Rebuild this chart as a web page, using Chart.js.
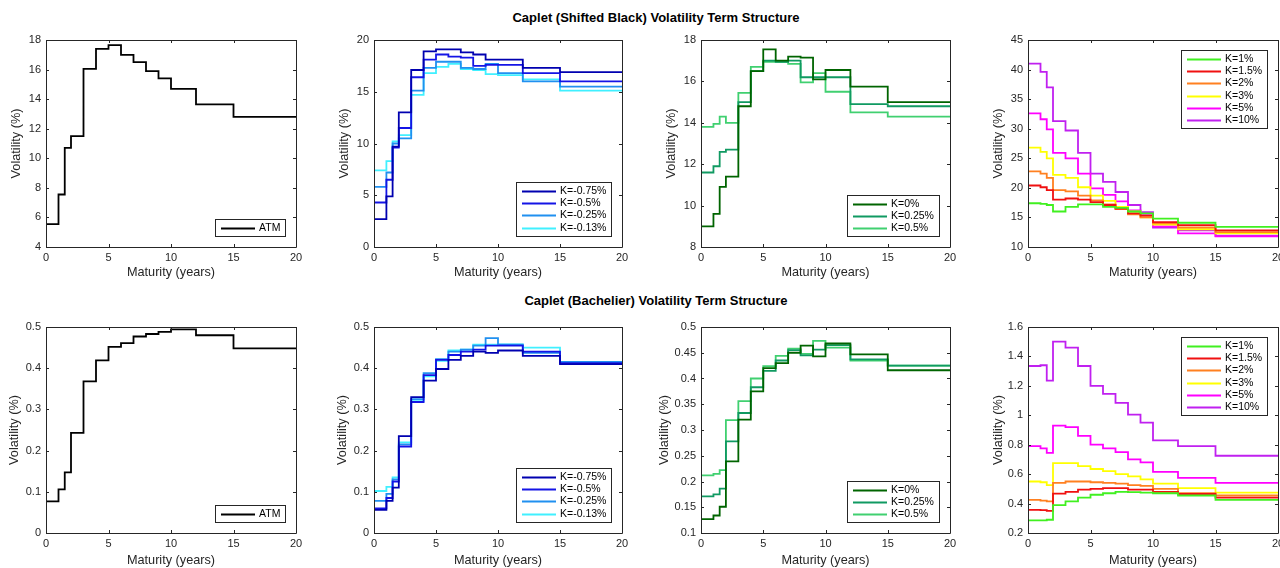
<!DOCTYPE html>
<html lang="en">

<head>
  <meta charset="UTF-8" />
  <title>Caplet Volatility Term Structure</title>
  <script src="https://cdn.jsdelivr.net/npm/chart.js"></script>
  <style>
    body {
      margin: 0;
      width: 1280px;
      height: 568px;
      overflow: hidden;
      background: #fff;
      position: relative;
      font-family: "Liberation Sans", Arial, sans-serif;
    }

    .titulo {
      position: absolute;
      left: 0;
      width: 1312px;
      text-align: center;
      font-weight: bold;
      font-size: 13px;
      color: #000;
    }

    canvas {
      position: absolute;
    }
  </style>
</head>

<body>
  <div class="titulo" style="top: 10px;">Caplet (Shifted Black) Volatility Term Structure</div>
  <div class="titulo" style="top: 293px;">Caplet (Bachelier) Volatility Term Structure</div>

  <script>
    // maturity knots (years); each value holds until the next knot
    const maturidades = [0, 1, 1.5, 2, 3, 4, 5, 6, 7, 8, 9, 10, 12, 15, 20];
    const ticksX = [0, 5, 10, 15, 20];

    // Shifted Black volatilities (%)
    const sbATM = [5.55, 7.55, 10.7, 11.5, 16.05, 17.4, 17.65, 17.0, 16.5, 15.9, 15.4, 14.7, 13.65, 12.8];
    const sbKm075 = [2.7, 4.9, 9.7, 13.0, 17.1, 18.9, 19.1, 19.1, 18.8, 18.6, 18.1, 18.1, 17.3, 16.9];
    const sbKm050 = [4.3, 6.5, 9.6, 11.5, 16.4, 18.1, 18.6, 18.4, 18.3, 17.5, 17.6, 17.6, 16.8, 16.0];
    const sbKm025 = [5.8, 7.2, 10.0, 10.5, 15.1, 17.3, 17.9, 17.9, 17.3, 17.2, 17.7, 16.8, 16.0, 15.5];
    const sbKm013 = [7.4, 8.3, 10.2, 10.8, 14.7, 16.8, 17.4, 17.7, 17.2, 17.1, 16.7, 16.6, 16.2, 15.1];
    const sbK000 = [9.0, 9.6, 10.9, 11.4, 14.8, 16.5, 17.55, 17.0, 17.2, 17.15, 16.1, 16.55, 15.75, 15.0];
    const sbK025 = [11.6, 11.9, 12.6, 12.7, 15.0, 16.5, 17.0, 16.95, 17.0, 16.2, 16.2, 16.2, 14.9, 14.8];
    const sbK050 = [13.8, 13.95, 14.3, 14.0, 15.45, 16.7, 16.95, 16.95, 16.85, 15.95, 16.4, 15.5, 14.5, 14.3];
    const sbK1 = [17.4, 17.3, 17.1, 16.0, 16.8, 17.2, 17.2, 16.8, 16.6, 16.0, 15.7, 14.8, 14.1, 13.4];
    const sbK15 = [20.4, 20.1, 19.6, 18.0, 18.2, 18.0, 17.6, 17.1, 16.5, 15.7, 15.3, 14.2, 13.7, 12.8];
    const sbK2 = [22.8, 22.4, 21.7, 19.6, 19.4, 18.7, 17.9, 17.2, 16.4, 15.5, 15.0, 14.0, 13.3, 12.5];
    const sbK3 = [26.8, 26.1, 25.0, 22.2, 21.7, 20.1, 18.7, 17.8, 16.8, 16.0, 15.0, 13.8, 13.0, 12.3];
    const sbK5 = [32.6, 31.6, 29.9, 25.9, 25.0, 22.4, 19.9, 18.8, 17.7, 16.2, 15.4, 13.5, 12.3, 11.8];
    const sbK10 = [41.0, 39.6, 37.0, 31.3, 29.7, 25.9, 22.4, 21.0, 19.3, 17.1, 15.9, 13.3, 12.8, 11.9];

    // Bachelier volatilities (%)
    const baATM = [0.077, 0.106, 0.147, 0.243, 0.368, 0.419, 0.452, 0.461, 0.477, 0.483, 0.488, 0.494, 0.480, 0.448];
    const baKm075 = [0.056, 0.078, 0.11, 0.235, 0.33, 0.37, 0.398, 0.42, 0.43, 0.44, 0.437, 0.443, 0.43, 0.41];
    const baKm050 = [0.06, 0.085, 0.125, 0.21, 0.318, 0.383, 0.42, 0.432, 0.44, 0.445, 0.455, 0.455, 0.44, 0.412];
    const baKm025 = [0.078, 0.095, 0.13, 0.215, 0.325, 0.388, 0.422, 0.44, 0.445, 0.455, 0.473, 0.457, 0.437, 0.415];
    const baKm013 = [0.102, 0.112, 0.135, 0.22, 0.32, 0.38, 0.418, 0.443, 0.445, 0.457, 0.457, 0.458, 0.45, 0.415];
    const baK000 = [0.127, 0.134, 0.151, 0.239, 0.32, 0.375, 0.42, 0.43, 0.45, 0.464, 0.443, 0.468, 0.447, 0.416];
    const baK025 = [0.171, 0.175, 0.186, 0.278, 0.333, 0.383, 0.415, 0.435, 0.455, 0.445, 0.456, 0.465, 0.437, 0.425];
    const baK050 = [0.212, 0.215, 0.222, 0.319, 0.356, 0.40, 0.424, 0.444, 0.458, 0.448, 0.473, 0.46, 0.435, 0.425];
    const baK1 = [0.286, 0.286, 0.29, 0.39, 0.415, 0.44, 0.46, 0.47, 0.48, 0.478, 0.475, 0.47, 0.455, 0.425];
    const baK15 = [0.357, 0.355, 0.35, 0.468, 0.48, 0.495, 0.50, 0.505, 0.505, 0.495, 0.495, 0.48, 0.465, 0.44];
    const baK2 = [0.425, 0.42, 0.415, 0.54, 0.55, 0.55, 0.545, 0.54, 0.535, 0.525, 0.52, 0.50, 0.47, 0.455];
    const baK3 = [0.55, 0.545, 0.525, 0.675, 0.675, 0.655, 0.635, 0.62, 0.60, 0.585, 0.565, 0.535, 0.505, 0.475];
    const baK5 = [0.79, 0.775, 0.745, 0.93, 0.92, 0.86, 0.80, 0.775, 0.75, 0.70, 0.68, 0.615, 0.575, 0.54];
    const baK10 = [1.335, 1.34, 1.235, 1.50, 1.46, 1.335, 1.20, 1.145, 1.085, 1.005, 0.95, 0.83, 0.79, 0.725];

    const corATM = '#000000';
    const coresNeg = ['#0000b0', '#1414e6', '#2090f0', '#40f0ff'];
    const coresBaixo = ['#006400', '#109a62', '#40d070'];
    const coresAlto = ['#40f020', '#f01010', '#ff8020', '#ffff00', '#ff00ff', '#c020f0'];

    const rotNeg = ['K=-0.75%', 'K=-0.5%', 'K=-0.25%', 'K=-0.13%'];
    const rotBaixo = ['K=0%', 'K=0.25%', 'K=0.5%'];
    const rotAlto = ['K=1%', 'K=1.5%', 'K=2%', 'K=3%', 'K=5%', 'K=10%'];

    const FONTE = '"Liberation Sans", Arial, sans-serif';
    const CINZA = '#262626';

    // space reserved above and right of the plot box
    const PT = 12, PR = 12;

    function pontos(valores) {
      return maturidades.map((m, i) => ({ x: m, y: valores[Math.min(i, valores.length - 1)] }));
    }

    function series(listas, rotulos, cores) {
      return listas.map((v, i) => ({
        label: rotulos[i],
        data: pontos(v),
        borderColor: cores[i],
        borderWidth: 1.8,
        stepped: true,
        pointRadius: 0,
        fill: false
      }));
    }

    const paineis = [
      { esq: 46, topo: 40, larg: 250, alt: 207, yw: 41, xh: 37, y: [4, 18, 2], canto: 'se', ds: series([sbATM], ['ATM'], [corATM]) },
      { esq: 374, topo: 40, larg: 248, alt: 207, yw: 41, xh: 37, y: [0, 20, 5], canto: 'se', ds: series([sbKm075, sbKm050, sbKm025, sbKm013], rotNeg, coresNeg) },
      { esq: 701, topo: 40, larg: 249, alt: 207, yw: 41, xh: 37, y: [8, 18, 2], canto: 'se', ds: series([sbK000, sbK025, sbK050], rotBaixo, coresBaixo) },
      { esq: 1028, topo: 40, larg: 250, alt: 207, yw: 41, xh: 37, y: [10, 45, 5], canto: 'ne', ds: series([sbK1, sbK15, sbK2, sbK3, sbK5, sbK10], rotAlto, coresAlto) },
      { esq: 46, topo: 327, larg: 250, alt: 206, yw: 43, xh: 39, y: [0, 0.5, 0.1], canto: 'se', ds: series([baATM], ['ATM'], [corATM]) },
      { esq: 374, topo: 327, larg: 248, alt: 206, yw: 43, xh: 39, y: [0, 0.5, 0.1], canto: 'se', ds: series([baKm075, baKm050, baKm025, baKm013], rotNeg, coresNeg) },
      { esq: 701, topo: 327, larg: 249, alt: 206, yw: 48, xh: 39, y: [0.1, 0.5, 0.05], canto: 'se', ds: series([baK000, baK025, baK050], rotBaixo, coresBaixo) },
      { esq: 1028, topo: 327, larg: 250, alt: 206, yw: 41, xh: 39, y: [0.2, 1.6, 0.2], canto: 'ne', ds: series([baK1, baK15, baK2, baK3, baK5, baK10], rotAlto, coresAlto) }
    ];

    // axes box with inward tick marks on all four sides
    const moldura = {
      id: 'moldura',
      afterDraw(chart) {
        const { ctx, chartArea: a, scales } = chart;
        const tl = 3;
        ctx.save();
        ctx.strokeStyle = CINZA;
        ctx.lineWidth = 1;
        ctx.beginPath();
        ctx.rect(Math.round(a.left) + 0.5, Math.round(a.top) + 0.5,
          Math.round(a.right) - Math.round(a.left), Math.round(a.bottom) - Math.round(a.top));
        scales.x.ticks.forEach(t => {
          const px = Math.round(scales.x.getPixelForValue(t.value)) + 0.5;
          ctx.moveTo(px, a.bottom); ctx.lineTo(px, a.bottom - tl);
          ctx.moveTo(px, a.top); ctx.lineTo(px, a.top + tl);
        });
        scales.y.ticks.forEach(t => {
          const py = Math.round(scales.y.getPixelForValue(t.value)) + 0.5;
          ctx.moveTo(a.left, py); ctx.lineTo(a.left + tl, py);
          ctx.moveTo(a.right, py); ctx.lineTo(a.right - tl, py);
        });
        ctx.stroke();
        ctx.restore();
      }
    };

    // boxed legend drawn inside the plot area
    const legendaCaixa = {
      id: 'legendaCaixa',
      afterDraw(chart, args, opts) {
        const { ctx, chartArea: a } = chart;
        const ds = chart.data.datasets;
        const linhaH = 12.3;
        ctx.save();
        ctx.font = '10.5px ' + FONTE;
        const textoW = Math.max(...ds.map(d => ctx.measureText(d.label).width));
        const w = Math.round(44 + textoW + 5);
        const h = Math.round(ds.length * linhaH + 4.5);
        const x0 = Math.round(a.right - 11 - w);
        const y0 = opts.canto === 'ne' ? Math.round(a.top + 10) : Math.round(a.bottom - 11 - h);
        ctx.fillStyle = '#fff';
        ctx.fillRect(x0, y0, w, h);
        ctx.strokeStyle = CINZA;
        ctx.lineWidth = 1;
        ctx.strokeRect(x0 + 0.5, y0 + 0.5, w, h);
        ctx.textBaseline = 'middle';
        ds.forEach((d, i) => {
          const cy = Math.round(y0 + 2.5 + linhaH * (i + 0.5)) + 0.5;
          ctx.strokeStyle = d.borderColor;
          ctx.lineWidth = d.borderWidth;
          ctx.beginPath();
          ctx.moveTo(x0 + 6, cy);
          ctx.lineTo(x0 + 40, cy);
          ctx.stroke();
          ctx.fillStyle = '#000';
          ctx.fillText(d.label, x0 + 44, cy);
        });
        ctx.restore();
      }
    };

    paineis.forEach(p => {
      const canvas = document.createElement('canvas');
      canvas.width = p.larg + p.yw + PR;
      canvas.height = p.alt + PT + p.xh;
      canvas.style.left = (p.esq - p.yw) + 'px';
      canvas.style.top = (p.topo - PT) + 'px';
      document.body.appendChild(canvas);

      new Chart(canvas.getContext('2d'), {
        type: 'line',
        data: { datasets: p.ds },
        options: {
          responsive: false,
          animation: false,
          devicePixelRatio: 1,
          layout: { padding: { top: PT, right: PR, left: 0, bottom: 0 } },
          scales: {
            x: {
              type: 'linear',
              min: 0,
              max: 20,
              afterFit: s => { s.height = p.xh; },
              afterBuildTicks: s => { s.ticks = ticksX.map(v => ({ value: v })); },
              grid: { display: false, drawTicks: false },
              border: { display: false },
              ticks: { padding: 4, maxRotation: 0, autoSkip: false, color: CINZA, font: { family: FONTE, size: 11 } },
              title: { display: true, text: 'Maturity (years)', color: CINZA, font: { family: FONTE, size: 12.7 }, padding: 4 }
            },
            y: {
              min: p.y[0],
              max: p.y[1],
              afterFit: s => { s.width = p.yw; },
              grid: { display: false, drawTicks: false },
              border: { display: false },
              ticks: {
                stepSize: p.y[2],
                padding: 5,
                autoSkip: false,
                color: CINZA,
                font: { family: FONTE, size: 11 },
                callback: v => String(+Number(v).toFixed(3))
              },
              title: { display: true, text: 'Volatility (%)', color: CINZA, font: { family: FONTE, size: 12.7 }, padding: 4 }
            }
          },
          plugins: {
            legend: { display: false },
            tooltip: { enabled: false },
            legendaCaixa: { canto: p.canto }
          }
        },
        plugins: [moldura, legendaCaixa]
      });
    });
  </script>
</body>

</html>
